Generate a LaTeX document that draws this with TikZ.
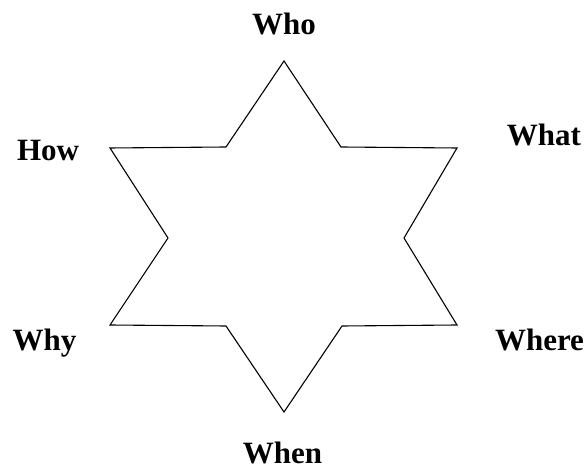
\documentclass[tikz,border=0pt]{standalone}
\usepackage{fontspec}
\setmainfont{Liberation Serif}
\begin{document}
\begin{tikzpicture}[x=1pt,y=1pt,
  word/.style={font=\fontsize{31}{36}\selectfont\bfseries,anchor=base,inner sep=0pt}]
\useasboundingbox (0,0) rectangle (588,468);

\coordinate (top) at (284,407);
\coordinate (innerUR) at (341,321);
\coordinate (outerUR) at (457,320);
\coordinate (innerR) at (404,230);
\coordinate (outerLR) at (457,143);
\coordinate (innerLR) at (342,142);
\coordinate (bottom) at (284,56);
\coordinate (innerLL) at (226,142);
\coordinate (outerLL) at (110,143);
\coordinate (innerL) at (168,230);
\coordinate (outerUL) at (110,320);
\coordinate (innerUL) at (226,321);

\draw[line width=1.1pt] (top) -- (innerUR) -- (outerUR) -- (innerR) -- (outerLR)
  -- (innerLR) -- (bottom) -- (innerLL) -- (outerLL) -- (innerL) -- (outerUL)
  -- (innerUL) -- cycle;

\node[word] (who) at (284,433) {Who};
\node[word] (what) at (544,322) {What};
\node[word] (where) at (539.5,117) {Where};
\node[word] (when) at (282.5,5) {When};
\node[word] (why) at (44.5,117) {Why};
\node[word] (how) at (48,307) {How};
\end{tikzpicture}
\end{document}
